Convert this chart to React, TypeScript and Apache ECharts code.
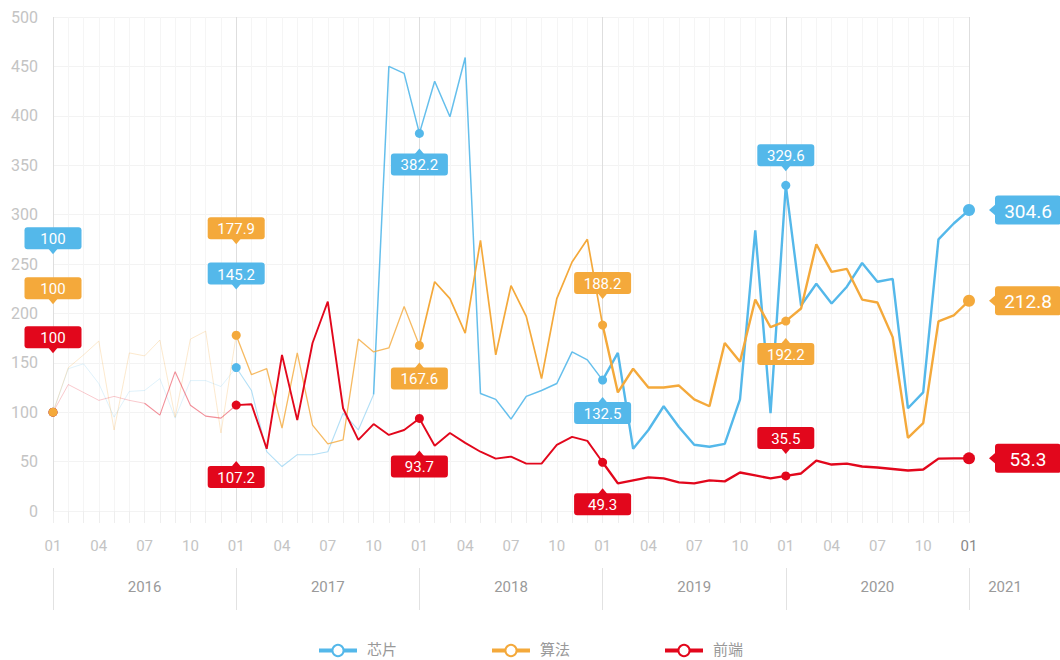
import React, { useEffect, useRef } from 'react';
import * as echarts from 'echarts';

const YEARS = ['2016', '2017', '2018', '2019', '2020', '2021'];
const MONTHS = ['01', '02', '03', '04', '05', '06', '07', '08', '09', '10', '11', '12'];
const CATEGORIES: string[] = [];
YEARS.forEach((y) =>
  MONTHS.forEach((m) => {
    if (y !== '2021' || m === '01') CATEGORIES.push(`${y}-${m}`);
  })
);

const SERIES_NAMES = ['芯片', '算法', '前端'];
const COLORS = ['#54b8ea', '#f4a93b', '#e2071c'];

// 芯片
const CHIP = [
  100, 144, 149, 129, 95, 121, 122, 134, 94, 132, 132, 126,
  145.2, 122, 60, 45, 57, 57, 60, 99, 82, 118, 450, 443,
  382.2, 435, 399, 459, 119, 113, 93, 116, 122, 129, 161, 153,
  132.5, 160, 63, 82, 106, 85, 67, 65, 68, 113, 284, 99,
  329.6, 208, 230, 210, 227, 251, 232, 235, 104, 120, 275, 291,
  304.6,
];
// 算法
const ALGO = [
  100, 145, 158, 172, 82, 160, 157, 173, 95, 174, 182, 79,
  177.9, 138, 144, 84, 160, 87, 68, 72, 174, 161, 165, 207,
  167.6, 232, 215, 180, 274, 158, 228, 197, 134, 215, 252, 275,
  188.2, 120, 144, 125, 125, 127, 113, 106, 170, 151, 214, 186,
  192.2, 205, 270, 242, 245, 214, 211, 176, 74, 89, 192, 198,
  212.8,
];
// 前端
const FRONT = [
  100, 128, 120, 112, 116, 112, 109, 97, 141, 107, 96, 94,
  107.2, 108, 63, 158, 92, 170, 212, 104, 72, 88, 77, 82,
  93.7, 66, 79, 69, 60, 53, 55, 48, 48, 67, 75, 71,
  49.3, 28, 31, 34, 33, 29, 28, 31, 30, 39, 36, 33,
  35.5, 38, 51, 47, 48, 45, 44, 42.5, 41, 42, 53, 53.3,
  53.3,
];
const DATA = [CHIP, ALGO, FRONT];

// line segments: fading older history (first entry = full style, used by legend)
const SEGMENTS = [
  [
    { from: 36, to: 60, a: 1, w: 2.4 },
    { from: 21, to: 36, a: 0.9, w: 1.5 },
    { from: 12, to: 21, a: 0.45, w: 1.1 },
    { from: 0, to: 12, a: 0.18, w: 1 },
  ],
  [
    { from: 36, to: 60, a: 1, w: 2.4 },
    { from: 24, to: 36, a: 1, w: 1.7 },
    { from: 12, to: 24, a: 0.8, w: 1.3 },
    { from: 0, to: 12, a: 0.25, w: 1 },
  ],
  [
    { from: 36, to: 60, a: 1, w: 2.4 },
    { from: 12, to: 36, a: 1, w: 1.9 },
    { from: 6, to: 12, a: 0.45, w: 1.1 },
    { from: 0, to: 6, a: 0.22, w: 1 },
  ],
];

// annotations: series index, month index, placement, offset (px)
const ANNOTATIONS = [
  { s: 0, i: 0, pos: 'top', d: -174 },
  { s: 2, i: 0, pos: 'top', d: -75 },
  { s: 1, i: 0, pos: 'top', d: -124 },
  { s: 0, i: 12, pos: 'top', d: -94 },
  { s: 1, i: 12, pos: 'top', d: -107 },
  { s: 2, i: 12, pos: 'bottom', d: 72 },
  { s: 0, i: 24, pos: 'bottom', d: 31 },
  { s: 1, i: 24, pos: 'bottom', d: 33 },
  { s: 2, i: 24, pos: 'bottom', d: 48 },
  { s: 1, i: 36, pos: 'top', d: -42 },
  { s: 0, i: 36, pos: 'bottom', d: 33 },
  { s: 2, i: 36, pos: 'bottom', d: 42 },
  { s: 0, i: 48, pos: 'top', d: -30 },
  { s: 1, i: 48, pos: 'bottom', d: 33 },
  { s: 2, i: 48, pos: 'top', d: -38 },
  { s: 0, i: 60, pos: 'right', d: 59 },
  { s: 1, i: 60, pos: 'right', d: 59 },
  { s: 2, i: 60, pos: 'right', d: 59 },
];

function rgba(hex: string, a: number) {
  const n = parseInt(hex.slice(1), 16);
  return `rgba(${(n >> 16) & 255},${(n >> 8) & 255},${n & 255},${a})`;
}

function fmt(v: number) {
  return Number.isInteger(v) ? String(v) : v.toFixed(1);
}

const FONT = 'Roboto, "Noto Sans CJK SC", sans-serif';

function buildOption() {
  const lineSeries: any[] = [];
  DATA.forEach((arr, s) => {
    SEGMENTS[s].forEach((seg) => {
      lineSeries.push({
        type: 'line',
        name: SERIES_NAMES[s],
        data: arr.map((v, i) => (i >= seg.from && i <= seg.to ? v : null)),
        xAxisIndex: 0,
        yAxisIndex: 0,
        symbol: 'emptyCircle',
        symbolSize: 9,
        showSymbol: false,
        silent: true,
        connectNulls: false,
        lineStyle: { color: rgba(COLORS[s], seg.a), width: seg.w },
        itemStyle: { color: COLORS[s], borderWidth: 3 },
        z: 2,
      });
    });
  });

  const annSeries = {
    type: 'custom',
    xAxisIndex: 0,
    yAxisIndex: 0,
    silent: true,
    z: 10,
    clip: false,
    data: ANNOTATIONS.map((a) => [a.i, DATA[a.s][a.i]]),
    renderItem: (params: any, api: any) => {
      const a = ANNOTATIONS[params.dataIndex];
      const val = api.value(1);
      const p = api.coord([api.value(0), val]);
      const color = COLORS[a.s];
      const big = a.pos === 'right';
      const w = big ? 66 : 57;
      const h = big ? 29 : 22;
      let cx = p[0];
      let cy = p[1];
      if (big) cx = p[0] + a.d;
      else cy = p[1] + a.d;
      let pts: number[][];
      if (a.pos === 'top') {
        pts = [[cx - 5, cy + h / 2 - 1], [cx + 5, cy + h / 2 - 1], [cx, cy + h / 2 + 5]];
      } else if (a.pos === 'bottom') {
        pts = [[cx - 5, cy - h / 2 + 1], [cx + 5, cy - h / 2 + 1], [cx, cy - h / 2 - 5]];
      } else {
        pts = [[cx - w / 2 + 1, cy - 6], [cx - w / 2 + 1, cy + 6], [cx - w / 2 - 6, cy]];
      }
      return {
        type: 'group',
        children: [
          {
            type: 'circle',
            shape: { cx: p[0], cy: p[1], r: big ? 6 : 4.5 },
            style: { fill: color },
          },
          {
            type: 'rect',
            shape: { x: cx - w / 2, y: cy - h / 2, width: w, height: h, r: 3 },
            style: { fill: color },
          },
          { type: 'polygon', shape: { points: pts }, style: { fill: color } },
          {
            type: 'text',
            x: cx,
            y: cy + 1,
            style: {
              text: fmt(val),
              fill: '#fff',
              fontSize: big ? 19 : 15,
              fontFamily: FONT,
              align: 'center',
              verticalAlign: 'middle',
            },
          },
        ],
      };
    },
  };

  return {
    animation: false,
    backgroundColor: '#fff',
    grid: { left: 53, right: 91, top: 17, bottom: 149, containLabel: false, outerBoundsMode: 'none' },
    legend: {
      data: SERIES_NAMES,
      bottom: 2,
      left: 'center',
      padding: [0, 5, 0, 5],
      itemWidth: 38,
      itemHeight: 14,
      itemGap: 93,
      textStyle: { color: '#999', fontSize: 15, fontFamily: FONT, padding: [0, 0, 0, 5] },
      lineStyle: { width: 4 },
    },
    xAxis: [
      {
        type: 'category',
        data: CATEGORIES,
        boundaryGap: false,
        axisLine: { show: false },
        axisTick: { show: true, interval: 0, length: 12, lineStyle: { color: '#eeeeee' } },
        axisLabel: {
          interval: 0,
          margin: 27,
          fontSize: 15,
          fontFamily: FONT,
          color: (_v: any, idx: number) => (idx === 60 ? '#8a8a8a' : '#c4c4c4'),
          formatter: (v: string, idx: number) => (idx % 3 === 0 ? v.slice(5) : ''),
        },
        splitLine: { show: true, interval: 0, lineStyle: { color: '#f5f5f5', width: 1 } },
      },
      {
        type: 'category',
        data: CATEGORIES,
        boundaryGap: false,
        position: 'bottom',
        offset: 57,
        axisLine: { show: false },
        axisTick: {
          show: true,
          interval: (idx: number) => idx % 12 === 0,
          length: 42,
          lineStyle: { color: '#e2e2e2' },
        },
        axisLabel: {
          interval: 0,
          margin: 11,
          fontSize: 15,
          fontFamily: FONT,
          color: '#9a9a9a',
          formatter: (v: string, idx: number) =>
            idx === 60 ? `{r|${v.slice(0, 4)}}` : idx % 12 === 6 ? v.slice(0, 4) : '',
          rich: {
            r: { padding: [0, 0, 0, 72], fontSize: 15, fontFamily: FONT, color: '#9a9a9a' },
          },
        },
        splitLine: {
          show: true,
          interval: (idx: number) => idx % 12 === 0,
          lineStyle: { color: '#dedede', width: 1 },
        },
      },
    ],
    yAxis: {
      type: 'value',
      min: 0,
      max: 500,
      interval: 50,
      axisLine: { show: false },
      axisTick: { show: false },
      axisLabel: { margin: 15, fontSize: 16, fontFamily: FONT, color: '#c4c4c4' },
      splitLine: { lineStyle: { color: '#f3f3f3' } },
    },
    series: [...lineSeries, annSeries],
  };
}

export default function App() {
  const ref = useRef<HTMLDivElement>(null);
  useEffect(() => {
    if (!ref.current) return;
    const chart = echarts.init(ref.current, null, { renderer: 'svg' });
    chart.setOption(buildOption() as any);
    return () => chart.dispose();
  }, []);
  return (
    <div
      ref={ref}
      style={{ position: 'fixed', left: 0, top: 0, width: 1060, height: 660, background: '#fff' }}
    />
  );
}
